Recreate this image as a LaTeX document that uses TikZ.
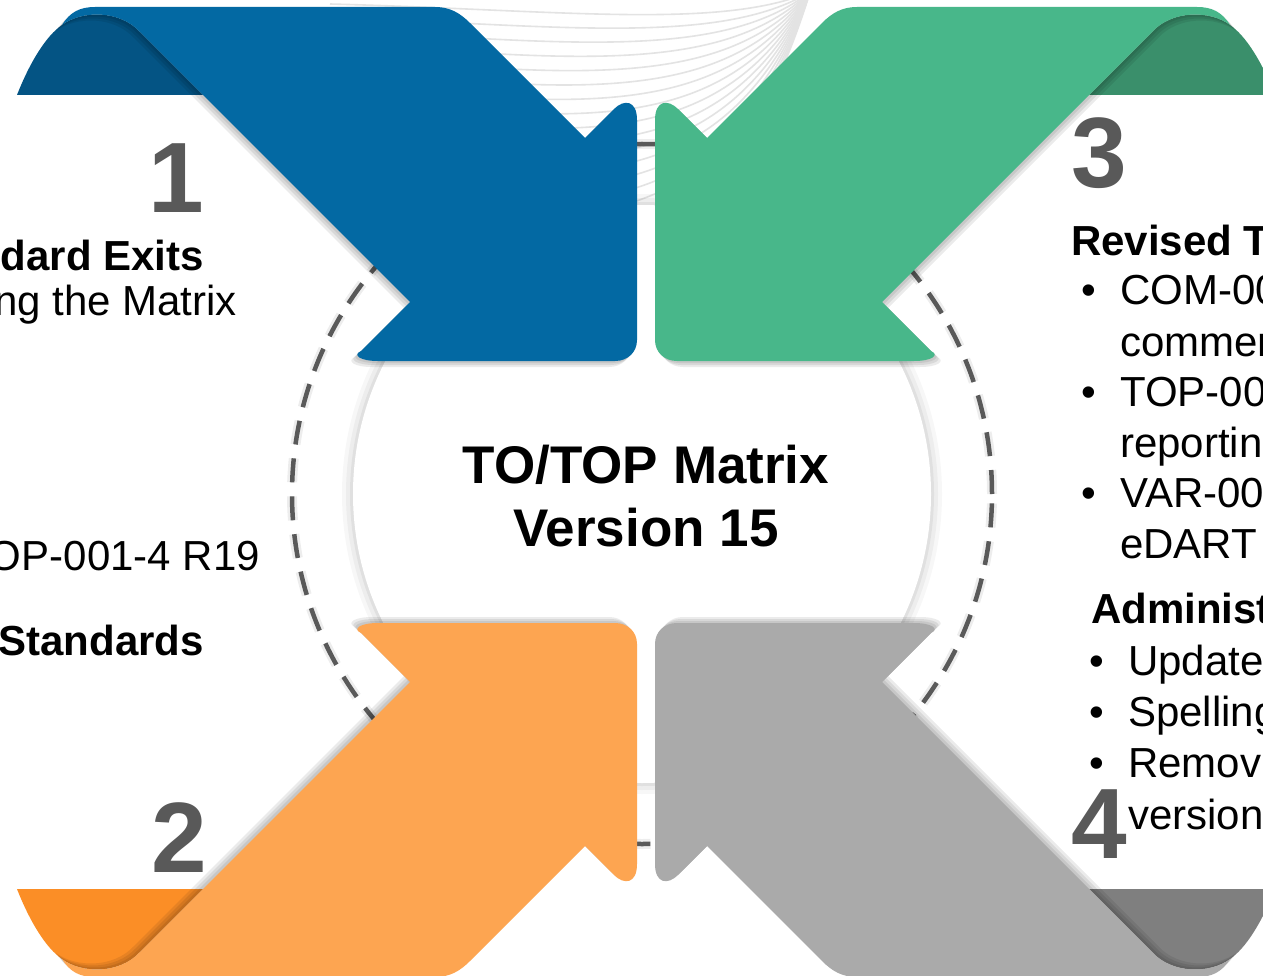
\documentclass[tikz,border=0pt]{standalone}
\usepackage{fontspec}
\setmainfont{Liberation Sans}
\definecolor{bandblue}{RGB}{3,105,163}
\definecolor{foldblue}{RGB}{4,84,132}
\definecolor{bandgreen}{RGB}{72,183,138}
\definecolor{foldgreen}{RGB}{58,143,107}
\definecolor{bandorange}{RGB}{253,165,81}
\definecolor{foldorange}{RGB}{251,142,38}
\definecolor{bandgray}{RGB}{170,170,170}
\definecolor{foldgray}{RGB}{127,127,127}
\definecolor{numgray}{RGB}{89,89,89}

\tikzset{
  band/.style={fill=#1},
  fold/.style={fill=#1},
  bandshade/.style={fill=black,opacity=.08},
  waveline/.style={draw=black!11,line width=1.6pt},
  ring/.style={draw=numgray,line width=4.5pt,dash pattern=on 24pt off 14pt},
  bignum/.style={text=numgray,inner sep=0pt,font=\fontsize{100}{100}\selectfont\bfseries},
  headtxt/.style={inner sep=0pt,font=\fontsize{42}{50}\selectfont\bfseries},
  bodytxt/.style={inner sep=0pt,font=\fontsize{42}{50}\selectfont}
}

% one quarter, drawn top-left and mirrored for the others
\newcommand{\bandpath}{(62,25) .. controls (70,12) and (80,7) .. (95,7) -- (435,7)
  .. controls (450,7) and (460,13) .. (470,23) -- (585,138) -- (614,109)
  .. controls (624,99) and (637,100) .. (637,120) -- (637,340)
  .. controls (637,352) and (628,361) .. (615,361) -- (378,361)
  .. controls (360,361) and (352,355) .. (361,351) -- (410,302) -- (140,32)
  .. controls (120,10) and (82,10) .. (62,25) -- cycle}
\newcommand{\foldpath}{(17,95) .. controls (30,62) and (46,36) .. (62,25)
  .. controls (82,10) and (120,10) .. (140,32) -- (203,95) -- cycle}
\newcommand{\quarterarrow}[3]{%
  \begin{scope}[cm={#1}]
    \fill[fold=#3] \foldpath;
    \foreach \o in {6,4,2}{\fill[bandshade,shift={(-\o,\o)}] \bandpath;}
    \fill[band=#2] \bandpath;
  \end{scope}}

\begin{document}
\begin{tikzpicture}[x=1pt,y=-1pt]
\useasboundingbox (0,0) rectangle (1263,976);
\fill[white] (0,0) rectangle (1263,976);

\foreach \i in {0,...,16}
  \draw[waveline] (330,{4+13*\i}) .. controls (560,{10+16*\i}) and (720,{30+16*\i}) .. (810,-8);

\draw[ring,draw=black,opacity=.07,line width=10pt] (642,494) circle[radius=350pt];
\draw[ring] (642,494) circle[radius=350pt];
\foreach \r/\op in {300/.03,296/.04,292/.05}
  \fill[black,opacity=\op] (642,494) circle[radius=\r pt];
\fill[white] (642,494) circle[radius=289pt];

\quarterarrow{1,0,0,1,(0,0)}{bandblue}{foldblue}
\quarterarrow{-1,0,0,1,(1292,0)}{bandgreen}{foldgreen}
\quarterarrow{1,0,0,-1,(0,984)}{bandorange}{foldorange}
\quarterarrow{-1,0,0,-1,(1292,984)}{bandgray}{foldgray}

\node[inner sep=0pt,font=\fontsize{53}{63}\selectfont\bfseries,align=center,anchor=base]
  (title) at (646,546) {TO/TOP Matrix\\Version 15};

\node[bignum,anchor=base] (numone) at (176,213) {1};
\node[bignum,anchor=base] (numtwo) at (179,872) {2};
\node[bignum,anchor=base] (numthree) at (1099,188) {3};
\node[bignum,anchor=base] (numfour) at (1099,858) {4};

\node[headtxt,anchor=base east] (exithead) at (204,270) {dard Exits};
\node[bodytxt,anchor=base east] (exitbody) at (237,315) {ng the Matrix};
\node[bodytxt,anchor=base east] (topref) at (260,570) {OP-001-4 R19};
\node[headtxt,anchor=base east] (stdhead) at (204,655) {Standards};

\node[headtxt,anchor=base west] (revhead) at (1071,256) {Revised T};
\foreach \y/\t/\u in {305/COM-00/commen,406/TOP-00/reportin,507/VAR-00/eDART}{
  \node[bodytxt,anchor=base] (dot\y) at (1089,\y) {\textbullet};
  \node[bodytxt,anchor=base west] (rev\y) at (1120,\y) {\t};
  \node[bodytxt,anchor=base west] (more\y) at (1120,\y+51) {\u};
}
\node[headtxt,anchor=base west] (admhead) at (1091,623) {Administ};
\foreach \y/\t in {675/Update,726/Spelling,777/Remov}{
  \node[bodytxt,anchor=base] (adot\y) at (1097,\y) {\textbullet};
  \node[bodytxt,anchor=base west] (adm\y) at (1128,\y) {\t};
}
\node[bodytxt,anchor=base west] (admmore) at (1128,829) {version};
\end{tikzpicture}
\end{document}
